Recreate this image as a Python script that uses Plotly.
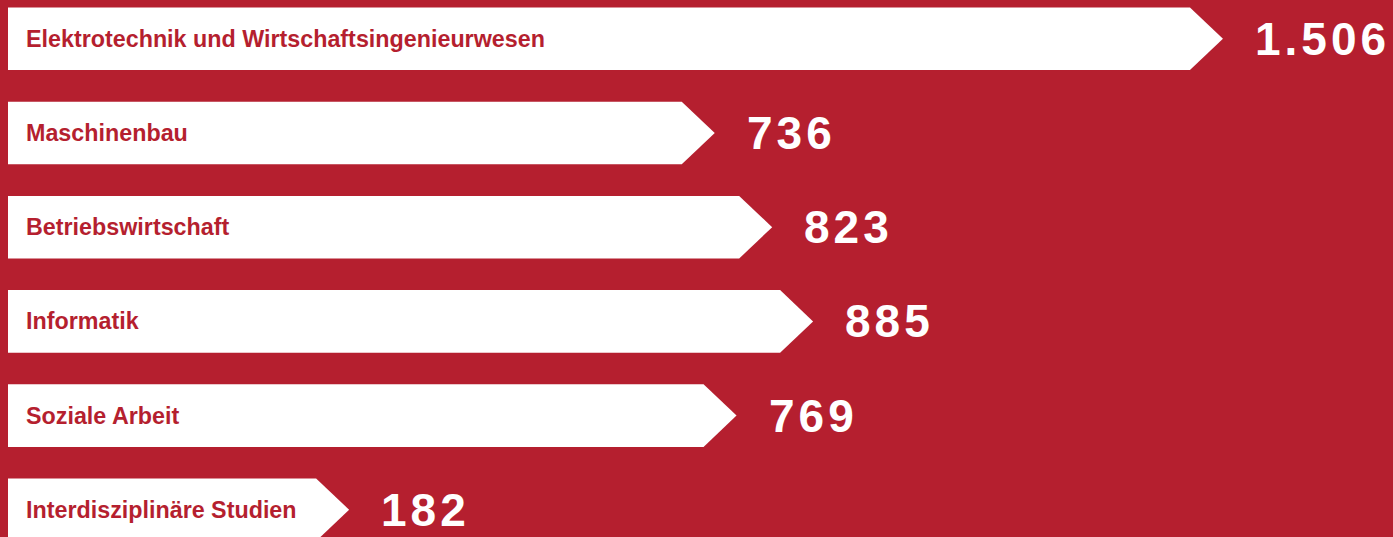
import plotly.graph_objects as go

# ---- data ----
categories = [
    "Elektrotechnik und Wirtschaftsingenieurwesen",
    "Maschinenbau",
    "Betriebswirtschaft",
    "Informatik",
    "Soziale Arbeit",
    "Interdisziplinäre Studien",
]
values = [1506, 736, 823, 885, 769, 182]

# ---- style / layout constants ----
W, H = 1393, 537
RED = "#B51F2F"
WHITE = "#FFFFFF"
FONT = "Liberation Sans, Arial, Helvetica, sans-serif"

PX_PER_UNIT = 0.66      # horizontal scale (pixels per value unit)
ZERO_PX = 229           # pixel position of value 0
BAR_LEFT_PX = 8         # bars start here
TIP_PX = 33             # depth of arrow head in pixels
ROW0_PX = 38.8          # centre of first row
ROW_STEP_PX = 94.2      # distance between rows
HALF_H_PX = 31.3        # half bar height

x_min = -ZERO_PX / PX_PER_UNIT
x_max = (W - ZERO_PX) / PX_PER_UNIT
base = (BAR_LEFT_PX - ZERO_PX) / PX_PER_UNIT
tip = TIP_PX / PX_PER_UNIT

y_top = -ROW0_PX / ROW_STEP_PX
y_bot = (H - ROW0_PX) / ROW_STEP_PX
hh = HALF_H_PX / ROW_STEP_PX

fig = go.Figure()

for i, (cat, v) in enumerate(zip(categories, values)):
    xs = [base, v - tip, v, v - tip, base, base]
    ys = [i - hh, i - hh, i, i + hh, i + hh, i - hh]
    fig.add_trace(go.Scatter(
        x=xs, y=ys, mode="lines", fill="toself",
        fillcolor=WHITE, line=dict(width=0, color=WHITE),
        hoverinfo="skip", showlegend=False, name=cat,
    ))
    # category label inside the bar
    fig.add_annotation(
        x=24 / W, xref="paper", y=i, yref="y",
        text=f"<b>{cat}</b>", showarrow=False,
        xanchor="left", yanchor="middle",
        font=dict(family=FONT, size=23.3, color=RED),
    )
    # value label to the right of the arrow
    label = f"{v:,}".replace(",", ".")
    fig.add_annotation(
        x=v, xref="x", y=i, yref="y",
        text=f"<span style='letter-spacing:4px'><b>{label}</b></span>",
        showarrow=False, xanchor="left", yanchor="middle",
        xshift=30,
        font=dict(family=FONT, size=46, color=WHITE),
    )

fig.update_layout(
    width=W, height=H,
    margin=dict(l=0, r=0, t=0, b=0, pad=0),
    paper_bgcolor=RED, plot_bgcolor=RED,
    showlegend=False,
    xaxis=dict(range=[x_min, x_max], visible=False, fixedrange=True),
    yaxis=dict(range=[y_bot, y_top], visible=False, fixedrange=True),
)

fig.write_html(
    "out.html",
    config={"displayModeBar": False},
    post_script="document.body.style.margin='0';document.body.style.background='" + RED + "';",
)
